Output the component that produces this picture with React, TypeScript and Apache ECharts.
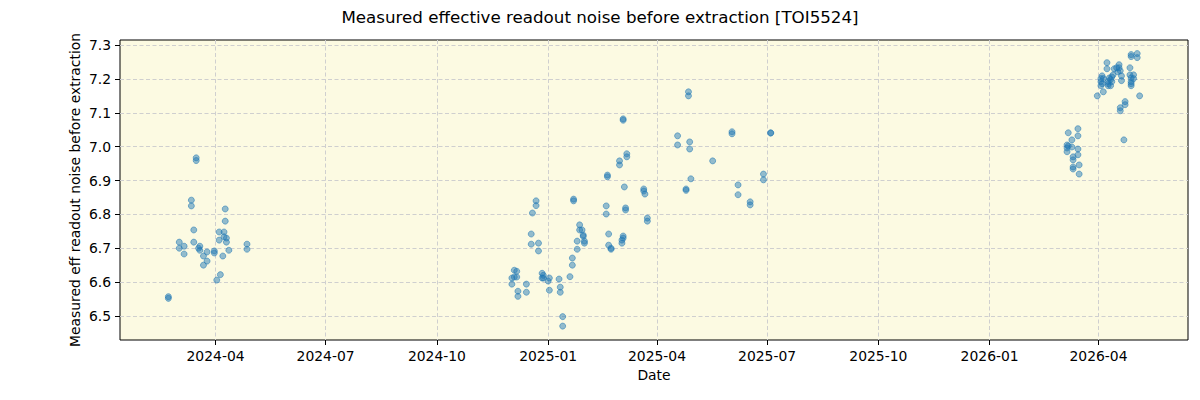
import React, { useEffect, useRef } from "react";
import * as echarts from "echarts";

// Observation dates and measured effective readout noise (before extraction)
const obsDates: string[] = [
  // 2024 season
  "2024-02-22", "2024-02-22",
  "2024-03-02", "2024-03-02",
  "2024-03-06", "2024-03-06",
  "2024-03-12", "2024-03-12",
  "2024-03-14", "2024-03-14",
  "2024-03-16", "2024-03-16",
  "2024-03-18", "2024-03-19", "2024-03-19",
  "2024-03-22", "2024-03-22",
  "2024-03-25", "2024-03-25",
  "2024-03-31", "2024-03-31",
  "2024-04-02",
  "2024-04-04", "2024-04-04",
  "2024-04-05",
  "2024-04-07",
  "2024-04-08", "2024-04-08",
  "2024-04-09", "2024-04-09",
  "2024-04-10", "2024-04-10",
  "2024-04-12",
  "2024-04-27", "2024-04-27",
  // 2024/25 season
  "2024-12-02", "2024-12-02",
  "2024-12-04", "2024-12-04",
  "2024-12-06", "2024-12-06",
  "2024-12-07", "2024-12-07",
  "2024-12-14", "2024-12-14",
  "2024-12-18", "2024-12-18",
  "2024-12-19",
  "2024-12-22", "2024-12-22",
  "2024-12-24", "2024-12-24",
  "2024-12-27", "2024-12-27",
  "2024-12-28", "2024-12-28",
  "2025-01-01", "2025-01-02", "2025-01-02",
  "2025-01-10",
  "2025-01-11", "2025-01-11",
  "2025-01-13", "2025-01-13",
  "2025-01-19",
  "2025-01-21", "2025-01-21",
  "2025-01-22", "2025-01-22",
  "2025-01-25", "2025-01-25",
  "2025-01-27", "2025-01-27",
  "2025-01-29",
  "2025-01-30", "2025-01-30",
  "2025-01-31", "2025-01-31",
  "2025-02-18", "2025-02-18",
  "2025-02-19", "2025-02-19",
  "2025-02-20", "2025-02-20",
  "2025-02-22", "2025-02-22",
  "2025-03-01", "2025-03-01",
  "2025-03-03", "2025-03-03",
  "2025-03-04", "2025-03-04", "2025-03-04", "2025-03-04",
  "2025-03-05",
  "2025-03-06", "2025-03-06",
  "2025-03-07", "2025-03-07",
  "2025-03-21", "2025-03-21",
  "2025-03-22",
  "2025-03-24", "2025-03-24",
  "2025-04-18", "2025-04-18",
  "2025-04-25", "2025-04-25",
  "2025-04-27", "2025-04-27",
  "2025-04-28", "2025-04-28",
  "2025-04-29",
  "2025-05-17",
  "2025-06-02", "2025-06-02",
  "2025-06-07", "2025-06-07",
  "2025-06-17", "2025-06-17",
  "2025-06-28", "2025-06-28",
  "2025-07-04", "2025-07-04",
  // 2026 season
  "2026-03-06", "2026-03-06", "2026-03-06",
  "2026-03-07", "2026-03-07",
  "2026-03-10", "2026-03-10",
  "2026-03-11", "2026-03-11", "2026-03-11", "2026-03-11",
  "2026-03-15", "2026-03-15", "2026-03-15", "2026-03-15",
  "2026-03-16", "2026-03-16",
  "2026-03-31",
  "2026-04-03", "2026-04-03", "2026-04-03",
  "2026-04-04", "2026-04-04",
  "2026-04-05", "2026-04-05",
  "2026-04-08", "2026-04-08",
  "2026-04-09", "2026-04-09", "2026-04-09",
  "2026-04-10",
  "2026-04-11", "2026-04-11",
  "2026-04-12", "2026-04-12",
  "2026-04-13",
  "2026-04-14",
  "2026-04-16",
  "2026-04-17",
  "2026-04-18", "2026-04-18",
  "2026-04-19", "2026-04-19", "2026-04-19",
  "2026-04-20", "2026-04-20",
  "2026-04-22",
  "2026-04-23", "2026-04-23",
  "2026-04-27", "2026-04-27",
  "2026-04-28", "2026-04-28", "2026-04-28", "2026-04-28", "2026-04-28", "2026-04-28",
  "2026-04-30", "2026-04-30",
  "2026-05-03", "2026-05-03",
  "2026-05-05",
];

const effNoise: number[] = [
  // 2024 season
  6.557, 6.552,
  6.718, 6.700,
  6.706, 6.683,
  6.842, 6.825,
  6.754, 6.718,
  6.967, 6.959,
  6.700, 6.706, 6.694,
  6.677, 6.650,
  6.689, 6.662,
  6.692, 6.686,
  6.606,
  6.748, 6.724,
  6.622,
  6.677,
  6.748, 6.734,
  6.816, 6.780,
  6.730, 6.718,
  6.694,
  6.712, 6.697,
  // 2024/25 season
  6.612, 6.594,
  6.635, 6.615,
  6.632, 6.615,
  6.573, 6.558,
  6.594, 6.570,
  6.742, 6.712,
  6.804,
  6.840, 6.826,
  6.715, 6.692,
  6.626, 6.612,
  6.620, 6.612,
  6.603, 6.612, 6.576,
  6.609,
  6.585, 6.570,
  6.498, 6.470,
  6.616,
  6.671, 6.650,
  6.845, 6.840,
  6.721, 6.697,
  6.769, 6.754,
  6.754,
  6.739, 6.735,
  6.721, 6.715,
  6.825, 6.801,
  6.916, 6.911,
  6.742, 6.709,
  6.700, 6.697,
  6.958, 6.946,
  6.724, 6.715,
  7.082, 7.078, 6.736, 6.730,
  6.881,
  6.819, 6.813,
  6.979, 6.970,
  6.875, 6.869,
  6.860,
  6.789, 6.780,
  7.032, 7.005,
  6.875, 6.871,
  7.162, 7.150,
  7.014, 6.993,
  6.905,
  6.958,
  7.044, 7.038,
  6.887, 6.858,
  6.837, 6.828,
  6.919, 6.902,
  7.041, 7.040,
  // 2026 season
  6.996, 6.985, 7.005,
  7.041, 7.002,
  7.020, 6.999,
  6.970, 6.961, 6.940, 6.934,
  7.053, 7.032, 6.993, 6.976,
  6.946, 6.919,
  7.150,
  7.201, 7.192, 7.180,
  7.209, 7.186,
  7.201, 7.162,
  7.248, 7.230,
  7.192, 7.186, 7.180,
  7.203,
  7.198, 7.180,
  7.206, 7.192,
  7.212,
  7.230,
  7.233,
  7.221,
  7.242, 7.233,
  7.224, 7.115, 7.106,
  7.209, 7.195,
  7.020,
  7.133, 7.124,
  7.233, 7.212,
  7.272, 7.266, 7.203, 7.192, 7.186, 7.180,
  7.212, 7.201,
  7.275, 7.263,
  7.150,
];

// Axis tick positions
const dateTicks: string[] = [
  "2024-04-01", "2024-07-01", "2024-10-01", "2025-01-01", "2025-04-01",
  "2025-07-01", "2025-10-01", "2026-01-01", "2026-04-01",
];
const noiseTicks: number[] = [6.5, 6.6, 6.7, 6.8, 6.9, 7.0, 7.1, 7.2, 7.3];

const X_MIN = "2024-01-13";
const X_MAX = "2026-06-14";
const Y_MIN = 6.429;
const Y_MAX = 7.315;

// Dates are placed on a plain numeric axis as UTC milliseconds
const ts = (s: string): number => {
  const [y, m, d] = s.split("-").map(Number);
  return Date.UTC(y, m - 1, d);
};

const pad2 = (n: number) => (n < 10 ? "0" + n : "" + n);

const FONT = "DejaVu Sans";
const GRID_LINE = { show: true, lineStyle: { color: "#cfcfcf", width: 1, type: [4, 2.5] as number[] } };

export default function App() {
  const ref = useRef<HTMLDivElement>(null);

  useEffect(() => {
    if (!ref.current) return;
    const chart = echarts.init(ref.current, undefined, { renderer: "svg" });

    const points = obsDates.map((d, i) => [ts(d), effNoise[i]]);
    const dateTickValues = dateTicks.map(ts);

    chart.setOption({
      animation: false,
      title: {
        text: "Measured effective readout noise before extraction [TOI5524]",
        left: "center",
        top: 0,
        padding: 0,
        textStyle: { fontFamily: FONT, fontSize: 16.7, fontWeight: "normal", color: "#000" },
      },
      grid: {
        left: 112,
        right: 4,
        top: 32,
        bottom: 60,
        show: true,
        backgroundColor: "#fcfae2",
        borderColor: "#000",
        borderWidth: 1,
      },
      xAxis: {
        type: "value",
        min: ts(X_MIN),
        max: ts(X_MAX),
        name: "Date",
        nameLocation: "middle",
        nameGap: 28,
        nameMoveOverlap: false,
        nameTextStyle: { fontFamily: FONT, fontSize: 13.9, color: "#000" },
        axisLine: { show: false },
        axisTick: {
          show: true,
          length: 5,
          lineStyle: { color: "#000", width: 1 },
          customValues: dateTickValues,
        },
        axisLabel: {
          margin: 9,
          fontFamily: FONT,
          fontSize: 13.9,
          color: "#000",
          customValues: dateTickValues,
          formatter: (v: number) => {
            const d = new Date(v);
            return d.getUTCFullYear() + "-" + pad2(d.getUTCMonth() + 1);
          },
        },
        splitLine: GRID_LINE,
      },
      yAxis: {
        type: "value",
        min: Y_MIN,
        max: Y_MAX,
        name: "Measured eff readout noise before extraction",
        nameLocation: "middle",
        nameGap: 38,
        nameMoveOverlap: false,
        nameTextStyle: { fontFamily: FONT, fontSize: 13.9, color: "#000" },
        axisLine: { show: false },
        axisTick: {
          show: true,
          length: 5,
          lineStyle: { color: "#000", width: 1 },
          customValues: noiseTicks,
        },
        axisLabel: {
          margin: 9,
          fontFamily: FONT,
          fontSize: 13.9,
          color: "#000",
          customValues: noiseTicks,
          formatter: (v: number) => v.toFixed(1),
        },
        splitLine: GRID_LINE,
      },
      series: [
        {
          type: "scatter",
          data: points,
          symbol: "circle",
          symbolSize: 6,
          itemStyle: {
            color: "rgba(31,119,180,0.6)",
            borderColor: "rgba(31,119,180,0.65)",
            borderWidth: 1,
          },
        },
      ],
    });

    return () => chart.dispose();
  }, []);

  return <div ref={ref} style={{ width: 1184, height: 392 }} />;
}
